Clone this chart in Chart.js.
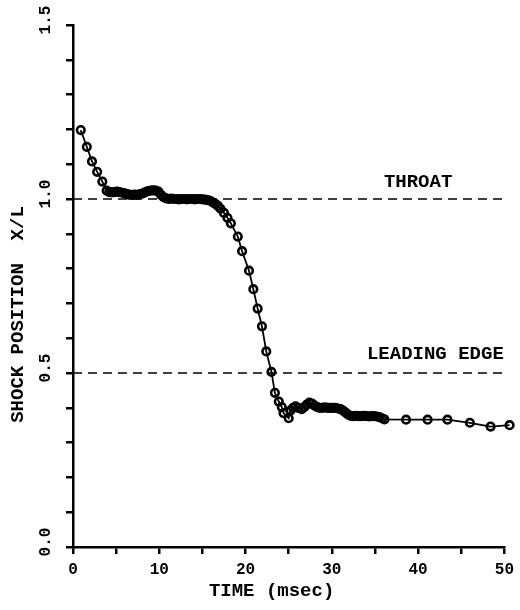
<!DOCTYPE html>
<html><head><meta charset="utf-8">
<script src="https://cdn.jsdelivr.net/npm/chart.js@4"></script>
<style>html,body{margin:0;padding:0;background:#fff}</style>
</head><body>
<canvas id="c" width="520" height="610" style="width:520px;height:610px;display:block"></canvas>
<script>
// ---- data ----
const timeMs = [
  0.9, 1.6, 2.2, 2.8, 3.4, 3.9, 4.2, 4.5, 4.8, 5.1, 5.4, 5.7, 6.0, 6.3, 6.6, 6.9, 7.2, 7.5, 7.8, 8.1,
  8.4, 8.7, 9.0, 9.3, 9.6, 9.9, 10.2, 10.5, 10.8, 11.1, 11.4, 11.7, 12.0, 12.3, 12.6, 12.9, 13.2, 13.5, 13.8, 14.1,
  14.4, 14.7, 15.0, 15.3, 15.6, 15.9, 16.2, 16.5, 16.8, 17.1, 17.5, 17.9, 18.3, 19.1, 19.6, 20.4, 20.9, 21.4, 21.9, 22.4,
  23.0, 23.4, 23.85, 24.2, 24.4, 25.0, 25.2, 25.5, 25.8, 26.1, 26.5, 26.8, 27.1, 27.4, 27.7, 28.0, 28.3, 28.6, 28.9, 29.2,
  29.5, 29.8, 30.1, 30.4, 30.7, 31.0, 31.3, 31.6, 31.9, 32.2, 32.5, 32.8, 33.1, 33.4, 33.7, 34.0, 34.3, 34.6, 34.9, 35.2,
  35.5, 35.8, 36.1, 38.6, 41.1, 43.4, 46.0, 48.4, 50.6
];
const shockPosition = [
  1.198, 1.150, 1.108, 1.078, 1.050, 1.024, 1.020, 1.019, 1.020, 1.021, 1.020, 1.018, 1.016, 1.014, 1.012, 1.012, 1.013, 1.012, 1.014, 1.016,
  1.020, 1.023, 1.024, 1.025, 1.024, 1.021, 1.012, 1.005, 1.002, 1.000, 1.001, 1.000, 1.000, 0.999, 1.000, 1.000, 0.999, 1.000, 1.000, 0.999,
  1.000, 1.000, 0.999, 0.998, 0.997, 0.995, 0.990, 0.986, 0.980, 0.972, 0.960, 0.946, 0.930, 0.892, 0.850, 0.794, 0.741, 0.685, 0.634, 0.562,
  0.503, 0.443, 0.418, 0.402, 0.385, 0.370, 0.392, 0.400, 0.404, 0.400, 0.396, 0.402, 0.409, 0.415, 0.412, 0.406, 0.402, 0.400, 0.400, 0.401,
  0.400, 0.400, 0.400, 0.400, 0.398, 0.396, 0.392, 0.386, 0.380, 0.377, 0.376, 0.377, 0.376, 0.376, 0.377, 0.376, 0.375, 0.376, 0.376, 0.375,
  0.373, 0.370, 0.367, 0.366, 0.366, 0.366, 0.357, 0.346, 0.350
];
const referenceLevels = [1.0, 0.5];
const referenceLabels = ['THROAT', 'LEADING EDGE'];
const xTickLabels = ['0', '10', '20', '30', '40', '50'];
const yTickLabels = ['0.0', '0.5', '1.0', '1.5'];

// ---- layout / style settings ----
const labelAnchors = [{x: 40.0, y: 1.049}, {x: 42.0, y: 0.555}];
const FONT = '"Liberation Mono", "DejaVu Sans Mono", monospace';

const refLabelPlugin = {
  id: 'refLabels',
  afterDatasetsDraw(chart) {
    const {ctx, scales: {x, y}} = chart;
    ctx.save();
    ctx.font = 'bold 19px ' + FONT;
    ctx.fillStyle = '#000';
    ctx.textAlign = 'center';
    ctx.textBaseline = 'middle';
    referenceLabels.forEach((txt, i) => {
      ctx.fillText(txt, x.getPixelForValue(labelAnchors[i].x), y.getPixelForValue(labelAnchors[i].y));
    });
    ctx.restore();
  }
};

function labelFor(list, v) {
  const found = list.find(s => Math.abs(parseFloat(s) - v) < 1e-6);
  return found === undefined ? '' : found;
}

const datasets = [{
  type: 'line',
  data: timeMs.map((t, i) => ({x: t, y: shockPosition[i]})),
  borderColor: '#000',
  borderWidth: 1.8,
  pointRadius: 3.8,
  pointHoverRadius: 3.8,
  pointBorderWidth: 2.6,
  pointBorderColor: '#000',
  pointBackgroundColor: 'rgba(0,0,0,0)',
  tension: 0,
  clip: false,
  order: 0
}];
referenceLevels.forEach(level => {
  datasets.push({
    type: 'line',
    data: [{x: 0, y: level}, {x: 50, y: level}],
    borderColor: '#000',
    borderWidth: 1.6,
    borderDash: [9, 6],
    pointRadius: 0,
    clip: false,
    order: 1
  });
});

new Chart(document.getElementById('c'), {
  type: 'line',
  data: {datasets},
  plugins: [refLabelPlugin],
  options: {
    responsive: false,
    animation: false,
    events: [],
    layout: {padding: {left: 0, top: 25, right: 13, bottom: 0}},
    plugins: {legend: {display: false}, tooltip: {enabled: false}},
    scales: {
      x: {
        type: 'linear', position: 'bottom', min: 0, max: 50,
        afterFit(s) { s.height = 63; },
        ticks: {
          stepSize: 5, autoSkip: false, maxRotation: 0, padding: 6,
          color: '#000', font: {family: FONT, size: 16, weight: 'bold'},
          callback: v => labelFor(xTickLabels, v)
        },
        grid: {drawOnChartArea: false, drawTicks: true, tickLength: 7, tickColor: '#000', tickWidth: 2.5, lineWidth: 2.5, color: '#000'},
        border: {display: true, color: '#000', width: 2.5},
        title: {display: true, text: 'TIME (msec)   ', color: '#000', font: {family: FONT, size: 19, weight: 'bold'}, padding: {top: 0, bottom: 7}}
      },
      y: {
        type: 'linear', position: 'left', min: 0, max: 1.5,
        afterFit(s) { s.width = 73; },
        ticks: {
          stepSize: 0.1, autoSkip: false, minRotation: 90, maxRotation: 90,
          crossAlign: 'center', padding: 6, labelOffset: -5,
          color: '#000', font: {family: FONT, size: 16, weight: 'bold'},
          callback: v => labelFor(yTickLabels, v)
        },
        grid: {drawOnChartArea: false, drawTicks: true, tickLength: 7, tickColor: '#000', tickWidth: 2.5, lineWidth: 2.5, color: '#000'},
        border: {display: true, color: '#000', width: 2.5},
        title: {display: true, text: 'SHOCK POSITION  X/L     ', color: '#000', font: {family: FONT, size: 19, weight: 'bold'}, padding: {top: 7, bottom: 0}}
      }
    }
  }
});
</script>
</body></html>
